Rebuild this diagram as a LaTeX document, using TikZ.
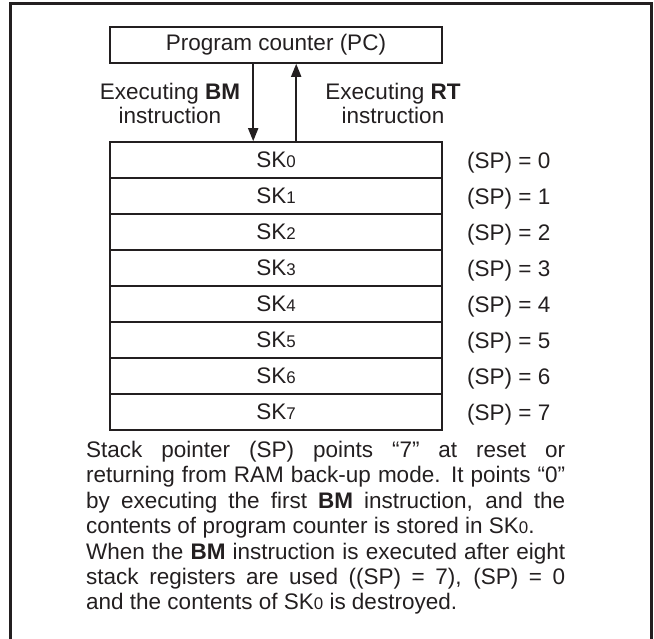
\documentclass[tikz,border=0pt]{standalone}
\usepackage{fontspec}
\setmainfont{Liberation Sans}
\usetikzlibrary{arrows.meta}
\definecolor{ink}{RGB}{35,31,32}
\newcommand{\skdig}[1]{{\fontsize{16.9}{16.9}\selectfont #1}}
\begin{document}
\begin{tikzpicture}[x=1pt,y=-1pt,
  every node/.style={text=ink},
  frame/.style={draw=ink,line width=2.5pt,line join=miter},
  box/.style={draw=ink,line width=1.6pt,minimum width=332pt,minimum height=36pt,inner sep=0pt,font=\fontsize{22.5}{27}\selectfont},
  lbl/.style={inner sep=0pt,anchor=base,font=\fontsize{22.5}{27}\selectfont},
  arr/.style={draw=ink,line width=1.8pt,-{Triangle[length=13pt,width=10pt]}},
  para/.style={anchor=north west,inner sep=0pt,text width=479pt,align=justify,font=\fontsize{22.5}{25.4}\selectfont}]
\useasboundingbox (0,0) rectangle (654,639);
\draw[frame] (10.5,645) -- (10.5,3.3) -- (651.7,3.3) -- (651.7,645);
\node[box] (pc) at (276,45) {Program counter (PC)};
\foreach \i in {0,...,7}{
  \node[box] (sk\i) at (276,160+36*\i) {SK\skdig{\i}};
  \node[lbl,anchor=base west] (sp\i) at (467,168.3+36*\i) {(SP) = \i};
}
\node[lbl] (bm1) at (170,99.3) {Executing \textbf{BM}};
\node[lbl] (bm2) at (170,124) {instruction};
\node[lbl] (rt1) at (393,99.3) {Executing \textbf{RT}};
\node[lbl] (rt2) at (393,124) {instruction};
\draw[arr] ([xshift=144pt]pc.south west) -- ([xshift=144pt]sk0.north west);
\draw[arr] ([xshift=187pt]sk0.north west) -- ([xshift=187pt]pc.south west);
\node[para] (note) at (86,439.3) {\lineskiplimit=-30pt\tolerance=10000\hyphenpenalty=10000\rule{0pt}{18pt}Stack pointer (SP) points “7” at reset or\linebreak returning from RAM back-up mode. It points “0”\linebreak by executing the first \textbf{BM} instruction, and the\linebreak contents of program counter is stored in SK\skdig{0}.\par
When the \textbf{BM} instruction is executed after eight\linebreak stack registers are used ((SP) = 7), (SP) = 0\linebreak and the contents of SK\skdig{0} is destroyed.\par};
\end{tikzpicture}
\end{document}
